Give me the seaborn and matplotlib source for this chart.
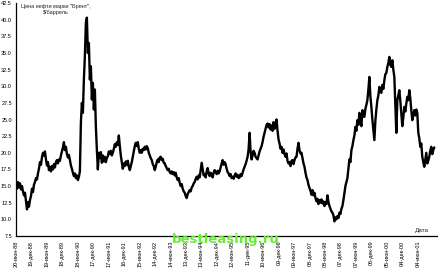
import matplotlib
matplotlib.use("Agg")
import matplotlib.pyplot as plt
import seaborn as sns
import pandas as pd

# ---- data ----
start_date = "1988-06-20"
step = "282h"  # sampling step of the series (about 11.75 days)
prices = [
    15.3, 14.6, 15.6, 14.8, 15.4, 14.5, 15.0, 14.2, 13.6, 14.0,
    12.8, 11.5, 12.6, 11.9, 12.9, 13.5, 14.6, 14.1, 15.2, 15.6,
    16.2, 16.0, 16.9, 17.6, 18.6, 18.2, 19.3, 20.0, 19.6, 20.2,
    19.0, 18.1, 18.6, 17.4, 17.9, 17.2, 18.0, 17.5, 18.3, 17.8,
    18.6, 18.9, 18.4, 19.0, 18.8, 19.6, 20.2, 20.8, 21.6, 20.4,
    20.9, 19.8, 19.3, 19.7, 18.9, 18.1, 17.6, 17.0, 16.5, 16.9,
    16.2, 16.6, 15.9, 16.4, 17.2, 24.5, 27.5, 26.0, 31.0, 34.5,
    39.5, 40.3, 35.0, 36.5, 31.0, 33.0, 28.0, 30.5, 26.5, 29.5,
    24.0, 20.5, 17.5, 20.0, 19.2, 20.1, 18.5, 19.6, 18.7, 19.4,
    18.6, 19.2, 19.5, 20.2, 19.8, 20.3, 19.6, 20.0, 20.6, 21.3,
    20.9, 21.6, 21.2, 22.6, 21.0, 19.6, 18.6, 17.6, 18.4, 18.0,
    18.7, 18.2, 18.8, 17.9, 17.4, 18.0, 18.6, 19.4, 20.2, 21.0,
    21.5, 21.0, 21.6, 20.6, 20.0, 20.4, 20.0, 20.6, 20.4, 20.9,
    20.5, 21.0, 20.7, 20.0, 19.6, 19.2, 18.9, 18.3, 18.0, 17.4,
    17.9, 18.6, 19.0, 18.6, 19.3, 19.4, 18.9, 19.1, 18.5, 18.4,
    18.0, 17.7, 17.4, 17.6, 17.1, 16.9, 17.2, 16.8, 17.1, 16.6,
    17.0, 16.3, 15.9, 16.2, 15.5, 15.0, 15.3, 14.6, 14.2, 14.0,
    13.5, 13.2, 13.8, 14.1, 14.4, 14.2, 14.8, 15.0, 15.4, 15.6,
    16.1, 16.4, 16.0, 16.6, 16.3, 17.4, 18.5, 17.6, 16.6, 16.8,
    16.3, 17.2, 17.7, 16.9, 16.5, 17.0, 16.8, 16.3, 17.0, 17.4,
    17.1, 16.8, 17.3, 16.9, 17.2, 17.8, 18.4, 18.9, 18.2, 18.6,
    18.3, 17.6, 17.1, 16.9, 16.5, 16.8, 16.2, 16.4, 16.1, 16.6,
    16.9, 16.4, 16.7, 16.2, 16.3, 16.8, 16.5, 17.0, 17.5, 17.9,
    18.3, 18.8, 19.4, 20.5, 23.0, 20.2, 19.0, 19.6, 20.3, 20.0,
    19.4, 19.2, 19.0, 19.6, 20.2, 20.6, 21.0, 21.6, 22.4, 23.0,
    23.6, 24.2, 24.4, 23.8, 24.3, 23.5, 24.1, 23.3, 24.6, 23.6,
    24.4, 25.0, 23.3, 22.0, 21.4, 20.6, 20.9, 20.0, 20.5, 19.8,
    19.4, 19.9, 18.8, 18.4, 18.6, 18.0, 18.8, 18.9, 18.3, 18.9,
    19.3, 19.4, 20.6, 21.5, 20.4, 19.9, 20.0, 19.2, 18.4, 17.9,
    17.0, 16.3, 15.9, 15.2, 14.7, 14.3, 13.7, 14.4, 13.6, 14.0,
    13.2, 12.7, 13.1, 12.3, 12.9, 12.5, 13.0, 12.4, 12.7, 12.0,
    12.6, 12.3, 13.6, 12.6, 12.0, 11.6, 11.2, 11.0, 10.6, 9.7,
    10.3, 10.0, 10.5, 10.2, 11.0, 10.8, 11.6, 12.0, 12.9, 14.0,
    15.0, 15.6, 16.2, 17.6, 19.0, 18.6, 20.4, 21.0, 21.9, 22.6,
    23.9, 23.3, 24.9, 24.2, 26.0, 24.8, 24.0, 26.4, 25.5, 25.4,
    26.6, 27.2, 27.9, 29.5, 31.4, 28.5, 26.9, 25.0, 23.4, 21.9,
    24.8, 26.5, 27.9, 28.6, 29.9, 29.2, 29.0, 30.2, 29.6, 30.9,
    31.8, 32.0, 32.9, 33.5, 34.4, 33.2, 32.9, 33.9, 32.5, 31.4,
    27.0, 23.0, 27.9, 28.6, 29.4, 27.8, 26.0, 24.0, 25.3, 26.9,
    26.2, 27.4, 28.4, 27.9, 29.4, 28.2, 26.4, 24.9, 25.7, 26.4,
    25.6, 26.5, 26.0, 23.0, 22.2, 20.9, 21.4, 19.4, 18.6, 17.9,
    18.9, 20.0, 18.4, 18.8, 19.4, 20.3, 20.9, 19.8, 20.4, 20.8,
]
y_ticks = [7.5, 10.0, 12.5, 15.0, 17.5, 20.0, 22.5, 25.0, 27.5, 30.0,
           32.5, 35.0, 37.5, 40.0, 42.5]
ru_months = ["янв", "фев", "мар", "апр", "май", "июн",
             "июл", "авг", "сен", "окт", "ноя", "дек"]
title_text = "Цена нефти марки \"Брент\",\n$/баррель"
x_title = "Дата"
watermark = "bestleasing.ru"

dates = pd.date_range(start_date, periods=len(prices), freq=step)
df = pd.DataFrame({"date": dates, "price": prices})
tick_dates = pd.date_range(start_date, periods=27, freq="182D")
tick_labels = [f"{d.day:02d}-{ru_months[d.month - 1]}-{d.year % 100:02d}" for d in tick_dates]

sns.set_style("white")
plt.rcParams["font.family"] = ["Liberation Sans", "DejaVu Sans"]

fig = plt.figure(figsize=(4.39, 2.70), dpi=100)
ax = fig.add_axes([16 / 439, 34 / 270, 423 / 439, 233 / 270])

sns.lineplot(data=df, x="date", y="price", color="black", lw=1.7, ax=ax)

x0 = pd.Timestamp(start_date)
ax.set_xlim(x0, x0 + pd.Timedelta(days=4979))
ax.set_ylim(7.5, 42.5)
ax.set_yticks(y_ticks)
ax.set_yticklabels([f"{v:.1f}" for v in y_ticks], fontsize=4)
ax.set_xticks(tick_dates)
ax.set_xticklabels(tick_labels, rotation=90, fontsize=4)
ax.tick_params(axis="y", direction="out", length=2, width=0.8, pad=1, colors="black")
ax.tick_params(axis="x", direction="inout", length=3, width=0.8, pad=2, colors="black")
ax.set_xlabel("")
ax.set_ylabel("")
for s in ["top", "right"]:
    ax.spines[s].set_visible(False)
for s in ["left", "bottom"]:
    ax.spines[s].set_color("black")
    ax.spines[s].set_linewidth(0.9)

ax.text(0.095, 0.995, title_text, transform=ax.transAxes, ha="center", va="top",
        fontsize=4, linespacing=1.2)
ax.text(0.96, 0.012, x_title, transform=ax.transAxes, ha="center", va="bottom",
        fontsize=4.5)
fig.text(226 / 439, 1 - 240 / 270, watermark, ha="center", va="center",
         fontsize=9.5, fontweight="bold", color="#66ee33", family="DejaVu Sans")

fig.savefig("out.png", dpi=100)
